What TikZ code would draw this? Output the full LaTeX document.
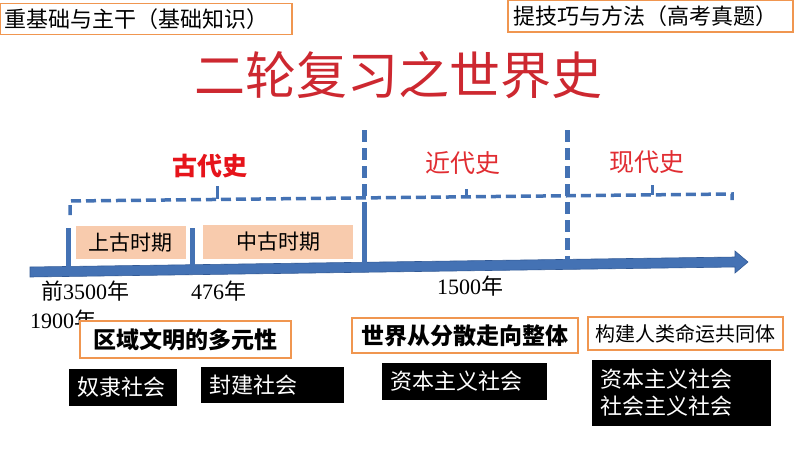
\documentclass[tikz,border=0pt]{standalone}
\usepackage{fontspec}
\setmainfont{Liberation Serif}
\newfontfamily\cjk{Noto Sans CJK SC}
\definecolor{tlblue}{RGB}{68,114,180}
\definecolor{tlblueedge}{RGB}{50,90,150}
\definecolor{boxorange}{RGB}{240,150,80}
\definecolor{salmon}{RGB}{248,203,173}
\definecolor{titlered}{RGB}{205,40,48}
\definecolor{erared}{RGB}{230,20,27}
\definecolor{erared2}{RGB}{225,45,50}
\newcommand{\fs}[1]{\fontsize{#1}{#1}\selectfont}
\tikzset{
  topbox/.style={draw=boxorange, line width=1.5pt, fill=white, align=left, inner xsep=5pt, inner ysep=0pt, font=\cjk\fs{22}},
  themebox/.style={draw=boxorange, line width=1.5pt, fill=white, inner sep=0pt, align=center},
  blackbox/.style={fill=black, text=white, inner xsep=8pt, inner ysep=0pt, align=left, font=\cjk\fs{22}},
  periodbox/.style={fill=salmon, inner sep=0pt, align=center, font=\cjk\fs{21}},
  yearlbl/.style={anchor=west, inner sep=0pt, font=\fs{22}},
  eralbl/.style={inner sep=0pt, font=\cjk\fs{25}},
  solidtick/.style={tlblue, line width=5pt},
  dashtick/.style={tlblue, line width=5pt, dash pattern=on 12pt off 6pt},
  bracket/.style={tlblue, line width=3.5pt, dash pattern=on 10pt off 5pt},
  bracketmark/.style={tlblue, line width=3pt}
}
\begin{document}
\begin{tikzpicture}[x=1pt,y=-1pt]
\useasboundingbox[fill=white] (0,0) rectangle (800,450);

% header boxes
\node[topbox, minimum height=31pt, text width=282pt] (basic) at (146,19) {重基础与主干（基础知识）};
\node[topbox, minimum height=32pt, text width=275pt] (skill) at (650.5,16) {提技巧与方法（高考真题）};

% title
\node[inner sep=0pt, text=titlered, font=\cjk\fs{51}] (title) at (398,75) {二轮复习之世界史};

% timeline arrow
\fill[tlblue, draw=tlblueedge, line width=0.6pt] (30,267) -- (735,257) -- (735,251) -- (748,262) -- (735,273) -- (735,267) -- (30,277) -- cycle;
\coordinate (t1) at (68,271.5);
\coordinate (t2) at (192,269.7);
\coordinate (t3) at (364,267.3);
\coordinate (t4) at (567,264.4);

% ticks
\draw[solidtick] (t1) -- (68,228);
\draw[solidtick] (t2) -- (192,228);
\draw[solidtick] (t3) -- (364,205);
\draw[dashtick] (364,130) -- (364,205);
\draw[dashtick] (567,130) -- (t4);

% dashed bracket
\coordinate (bl) at (70,201);
\coordinate (br) at (732,194);
\draw[bracket] (70,215) -- (bl) -- (br) -- (732,200);
\draw[bracketmark] (217,199.4) -- (217,186);
\draw[bracketmark] (466,196.8) -- (466,189);
\draw[bracketmark] (652,194.8) -- (652,185);

% era labels
\node[eralbl, text=erared, font=\cjk\bfseries\fs{25}] (ancient) at (210,166) {古代史};
\node[eralbl, text=erared2] (modern) at (463,163) {近代史};
\node[eralbl, text=erared2] (contemp) at (647,162) {现代史};

% period boxes
\node[periodbox, minimum width=110pt, minimum height=33pt] (shanggu) at (130.5,242.5) {上古时期};
\node[periodbox, minimum width=150pt, minimum height=34pt] (zhonggu) at (278,242) {中古时期};

% year labels
\node[yearlbl] (y1) at (41,291) {{\cjk 前}3500{\cjk 年}};
\node[yearlbl] (y2) at (191,291) {476{\cjk 年}};
\node[yearlbl] (y3) at (30,320) {1900{\cjk 年}};
\node[yearlbl] (y4) at (437,286) {1500{\cjk 年}};

% theme boxes
\node[themebox, minimum width=211pt, minimum height=37pt, font=\cjk\bfseries\fs{23}] (theme1) at (185.5,339.5) {区域文明的多元性};
\node[themebox, minimum width=226pt, minimum height=35pt, font=\cjk\bfseries\fs{23}] (theme2) at (465,335.5) {世界从分散走向整体};
\node[themebox, minimum width=195pt, minimum height=33pt, font=\cjk\fs{20}] (theme3) at (685.5,333.5) {构建人类命运共同体};

% society boxes
\node[blackbox, text width=92pt, minimum height=37pt] (s1) at (123,387.5) {奴隶社会};
\node[blackbox, text width=127pt, minimum height=36pt] (s2) at (272.5,385) {封建社会};
\node[blackbox, text width=149pt, minimum height=37pt] (s3) at (464.5,381.5) {资本主义社会};
\node[blackbox, text width=163pt, minimum height=66pt, font=\cjk\fontsize{22}{27}\selectfont] (s4) at (681.5,393) {资本主义社会\\社会主义社会};
\end{tikzpicture}
\end{document}
